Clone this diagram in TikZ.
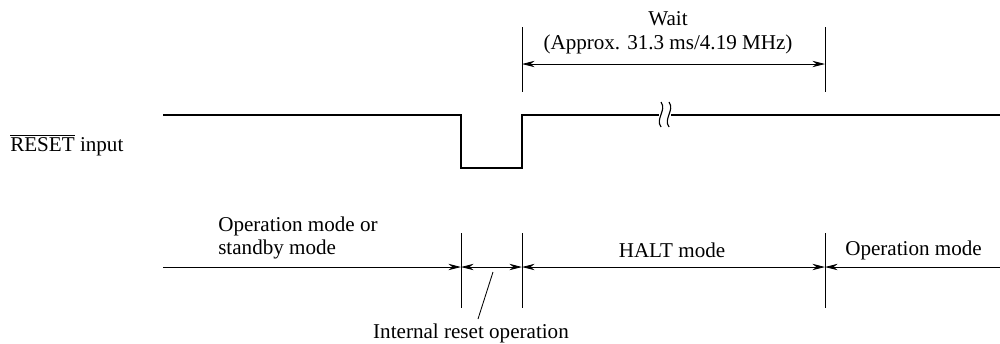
\documentclass[tikz,border=0pt]{standalone}
\usepackage{fontspec}
\setmainfont{Liberation Serif}
\usetikzlibrary{arrows.meta}

\begin{document}
\begin{tikzpicture}[x=0.025cm,y=-0.025cm,
	sig/.style={line width=2.1pt},
	tick/.style={line width=0.6pt},
	dim/.style={line width=0.6pt,{Stealth[length=9pt,width=4.5pt]}-{Stealth[length=9pt,width=4.5pt]}},
	lbl/.style={font=\fontsize{15pt}{17pt}\selectfont,inner sep=0pt}]
	\useasboundingbox (0,0) rectangle (1000,343);

	% (RESET signal)
	\coordinate (s0) at (163,115);
	\coordinate (fall) at (461,115);
	\coordinate (rise) at (522,115);
	\coordinate (brkL) at (659,115);
	\coordinate (brkR) at (671,115);
	\coordinate (s1) at (1000,115);
	\draw[sig] (s0) -- (fall) -- (461,168) -- (522,168) -- (rise) -- (brkL);
	\draw[sig] (brkR) -- (s1);
	\draw[line width=0.8pt] (661,102) .. controls (667,110) and (655,119) .. (661,127);
	\draw[line width=0.8pt] (669,102) .. controls (675,110) and (663,119) .. (669,127);
	\node[lbl,anchor=west] (resetlbl) at (10,145) {$\overline{\mbox{RESET}}$ input};

	% (wait)
	\coordinate (wt0) at (522,27);
	\coordinate (wt1) at (825,27);
	\draw[tick] (wt0) -- (522,92);
	\draw[tick] (wt1) -- (825,92);
	\draw[dim] (522,64) -- (825,64);
	\node[lbl,align=center] (wait) at (668,33) {Wait\\(Approx. 31.3 ms/4.19 MHz)};

	% (modes)
	\coordinate (m0) at (163,267);
	\coordinate (m1) at (461,267);
	\coordinate (m2) at (522,267);
	\coordinate (m3) at (825,267);
	\coordinate (m4) at (1000,267);
	\foreach \x in {461,522,825}
		\draw[tick] (\x,233) -- (\x,308);
	\draw[dim,{Stealth[length=9pt,width=4.5pt]}-] (m1) -- (m0);
	\draw[dim] (m1) -- (m2);
	\draw[dim] (m2) -- (m3);
	\draw[dim,{Stealth[length=9pt,width=4.5pt]}-] (m3) -- (m4);
	\node[lbl,anchor=west,align=left] (opstby) at (218,238) {Operation mode or\\standby mode};
	\node[lbl] (halt) at (672,250) {HALT mode};
	\node[lbl,anchor=west] (oper) at (845,250) {Operation mode};
	\node[lbl] (intrst) at (471,333) {Internal reset operation};
	\coordinate (ldr) at (478,319);
	\draw[tick] (493,272) -- (ldr);
\end{tikzpicture}
\end{document}
